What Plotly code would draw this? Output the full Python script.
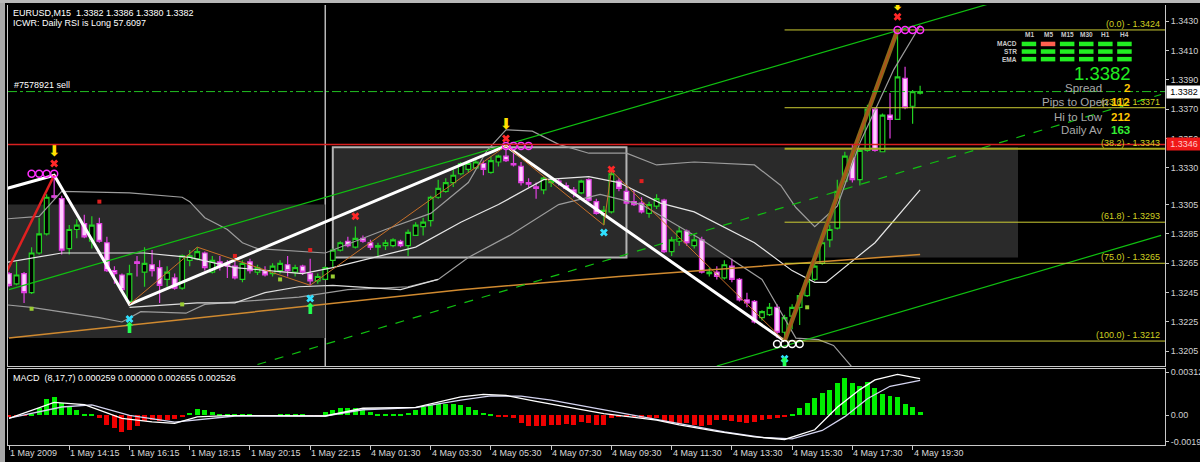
import plotly.graph_objects as go

# ---------------- data ----------------
bars = list(range(122))  # M15 bar index

open_ = [
    1.3258, 1.3251, 1.3258, 1.3245, 1.3272, 1.3285, 1.3311, 1.3309, 1.3275, 1.3288,
    1.3292, 1.3280, 1.3292, 1.3279, 1.3260, 1.3257, 1.3239, 1.3266, 1.3259, 1.3264,
    1.3262, 1.3254, 1.3255, 1.3248, 1.3267, 1.3268, 1.3272, 1.3259, 1.3266, 1.3265,
    1.3263, 1.3254, 1.3266, 1.3259, 1.3260, 1.3258, 1.3260, 1.3264, 1.3259, 1.3263,
    1.3258, 1.3253, 1.3254, 1.3267, 1.3274, 1.3280, 1.3276, 1.3282, 1.3279, 1.3276,
    1.3277, 1.3277, 1.3280, 1.3277, 1.3284, 1.3290, 1.3294, 1.3310, 1.3314, 1.3320,
    1.3326, 1.3329, 1.3330, 1.3333, 1.3327, 1.3334, 1.3338, 1.3333, 1.3331, 1.3320,
    1.3317, 1.3315, 1.3320, 1.3321, 1.3318, 1.3315, 1.3313, 1.3322, 1.3307, 1.3298,
    1.3300, 1.3321, 1.3314, 1.3307, 1.3306, 1.3299, 1.3304, 1.3308, 1.3273, 1.3280,
    1.3287, 1.3277, 1.3281, 1.3258, 1.3259, 1.3255, 1.3263, 1.3254, 1.3240, 1.3239,
    1.3228, 1.3230, 1.3235, 1.3218, 1.3229, 1.3235, 1.3243, 1.3254, 1.3265, 1.3281,
    1.3289, 1.3321, 1.3337, 1.3322, 1.3342, 1.3370, 1.3341, 1.3366, 1.3363, 1.3391,
    1.3372, 1.3381]
high = [
    1.3259, 1.3266, 1.3259, 1.3276, 1.3296, 1.3312, 1.3325, 1.3311, 1.3291, 1.3295,
    1.3298, 1.3297, 1.3296, 1.3283, 1.3263, 1.3258, 1.3264, 1.3270, 1.3276, 1.3274,
    1.3267, 1.3263, 1.3258, 1.3271, 1.3274, 1.3276, 1.3273, 1.3270, 1.3270, 1.3267,
    1.3266, 1.3267, 1.3268, 1.3264, 1.3263, 1.3265, 1.3267, 1.3270, 1.3264, 1.3264,
    1.3268, 1.3258, 1.3263, 1.3275, 1.3280, 1.3283, 1.3290, 1.3284, 1.3281, 1.3279,
    1.3281, 1.3282, 1.3281, 1.3288, 1.3293, 1.3296, 1.3311, 1.3322, 1.3323, 1.3329,
    1.3334, 1.3335, 1.3337, 1.3335, 1.3338, 1.3339, 1.3346, 1.3340, 1.3334, 1.3323,
    1.3320, 1.3324, 1.3322, 1.3323, 1.3320, 1.3317, 1.3322, 1.3323, 1.3309, 1.3304,
    1.3330, 1.3323, 1.3316, 1.3315, 1.3310, 1.3307, 1.3312, 1.3309, 1.3283, 1.3290,
    1.3288, 1.3285, 1.3283, 1.3262, 1.3263, 1.3267, 1.3268, 1.3255, 1.3245, 1.3240,
    1.3233, 1.3238, 1.3237, 1.3230, 1.3237, 1.3245, 1.3254, 1.3266, 1.3281, 1.3291,
    1.3322, 1.3341, 1.3346, 1.3343, 1.3373, 1.3371, 1.3367, 1.3381, 1.3424, 1.3399,
    1.3383, 1.3386]
low = [
    1.3249, 1.3250, 1.3238, 1.3244, 1.3271, 1.3284, 1.3309, 1.3271, 1.3271, 1.3282,
    1.3282, 1.3275, 1.3279, 1.3259, 1.3251, 1.3245, 1.3237, 1.3256, 1.3249, 1.3256,
    1.3238, 1.3249, 1.3247, 1.3247, 1.3263, 1.3267, 1.3260, 1.3258, 1.3260, 1.3255,
    1.3254, 1.3252, 1.3258, 1.3257, 1.3256, 1.3256, 1.3258, 1.3256, 1.3256, 1.3257,
    1.3250, 1.3251, 1.3254, 1.3262, 1.3273, 1.3276, 1.3275, 1.3279, 1.3274, 1.3270,
    1.3274, 1.3276, 1.3276, 1.3270, 1.3284, 1.3284, 1.3290, 1.3309, 1.3313, 1.3317,
    1.3325, 1.3327, 1.3329, 1.3325, 1.3326, 1.3331, 1.3334, 1.3331, 1.3318, 1.3317,
    1.3309, 1.3312, 1.3317, 1.3318, 1.3315, 1.3310, 1.3312, 1.3307, 1.3298, 1.3291,
    1.3299, 1.3314, 1.3305, 1.3304, 1.3299, 1.3296, 1.3302, 1.3272, 1.3270, 1.3277,
    1.3277, 1.3275, 1.3258, 1.3256, 1.3254, 1.3254, 1.3252, 1.3239, 1.3235, 1.3224,
    1.3226, 1.3229, 1.3214, 1.3212, 1.3220, 1.3223, 1.3242, 1.3253, 1.3264, 1.3276,
    1.3288, 1.3320, 1.3320, 1.3318, 1.3341, 1.3341, 1.3341, 1.3350, 1.3363, 1.3370,
    1.3360, 1.3380]
close = [
    1.3250, 1.3257, 1.3245, 1.3272, 1.3285, 1.3310, 1.3310, 1.3274, 1.3288, 1.3291,
    1.3283, 1.3291, 1.3280, 1.3260, 1.3258, 1.3247, 1.3258, 1.3265, 1.3265, 1.3260,
    1.3250, 1.3259, 1.3248, 1.3270, 1.3270, 1.3273, 1.3262, 1.3267, 1.3263, 1.3263,
    1.3255, 1.3265, 1.3260, 1.3262, 1.3257, 1.3263, 1.3265, 1.3260, 1.3262, 1.3259,
    1.3253, 1.3256, 1.3262, 1.3274, 1.3279, 1.3277, 1.3282, 1.3280, 1.3276, 1.3277,
    1.3279, 1.3281, 1.3277, 1.3286, 1.3291, 1.3293, 1.3310, 1.3316, 1.3320, 1.3325,
    1.3333, 1.3333, 1.3334, 1.3329, 1.3335, 1.3338, 1.3335, 1.3332, 1.3320, 1.3319,
    1.3316, 1.3323, 1.3321, 1.3320, 1.3316, 1.3313, 1.3321, 1.3308, 1.3299, 1.3301,
    1.3326, 1.3316, 1.3306, 1.3305, 1.3300, 1.3305, 1.3309, 1.3273, 1.3281, 1.3287,
    1.3279, 1.3281, 1.3259, 1.3259, 1.3256, 1.3264, 1.3254, 1.3240, 1.3238, 1.3225,
    1.3232, 1.3235, 1.3218, 1.3228, 1.3235, 1.3243, 1.3253, 1.3263, 1.3279, 1.3288,
    1.3314, 1.3338, 1.3322, 1.3342, 1.3370, 1.3342, 1.3366, 1.3363, 1.3392, 1.3371,
    1.3382, 1.3382]

macd_hist = [
    -0.00015, -0.00010, -0.00005, 0.00010, 0.00051, 0.00116, 0.00135, 0.00086, 0.00058, 0.00040,
    0.00012, 0.00012, -0.00016, -0.00070, -0.00093, -0.00123, -0.00105, -0.00077, -0.00040, -0.00035,
    -0.00040, -0.00035, -0.00030, -0.00012, 0.00016, 0.00047, 0.00035, 0.00023, 0.00012, 0.00007,
    0.00005, 0.00004, 0.00003, -0.00003, -0.00004, -0.00003, 0.00004, 0.00005, 0.00006, 0.00003,
    -0.00004, -0.00005, 0.00023, 0.00040, 0.00051, 0.00053, 0.00053, 0.00040, 0.00021, 0.00012,
    0.00010, 0.00012, 0.00012, 0.00016, 0.00035, 0.00058, 0.00072, 0.00079, 0.00081, 0.00081,
    0.00072, 0.00058, 0.00035, 0.00019, 0.00012, -0.00007, -0.00012, -0.00023, -0.00058, -0.00077,
    -0.00081, -0.00077, -0.00070, -0.00070, -0.00065, -0.00070, -0.00049, -0.00058, -0.00070, -0.00070,
    -0.00019, -0.00012, -0.00010, -0.00014, -0.00016, -0.00016, -0.00020, -0.00047, -0.00058, -0.00063,
    -0.00058, -0.00070, -0.00074, -0.00070, -0.00035, -0.00035, -0.00040, -0.00047, -0.00058, -0.00047,
    -0.00035, -0.00026, -0.00016, -0.00007, 0.00012, 0.00051, 0.00086, 0.00128, 0.00163, 0.00186,
    0.00233, 0.00268, 0.00233, 0.00209, 0.00244, 0.00198, 0.00156, 0.00140, 0.00135, 0.00081,
    0.00058, 0.000259]
macd_main_x = [0, 6, 10, 15, 19, 22, 25, 29, 42, 47, 54, 60, 63, 66, 70, 75, 79, 86, 89, 94, 99, 103, 107, 110, 113, 115, 118, 121]
macd_main_y = [-0.00023, 0.00093, 0.00077, -0.00023, -0.00047, -0.00058, -0.00012, -0.00002, -0.00005, 0.00051,
               0.00058, 0.00133, 0.00151, 0.00144, 0.00100, 0.00051, 0.00012, -0.00035, -0.00070, -0.00116,
               -0.00156, -0.00175, -0.00105, 0.00058, 0.00186, 0.00256, 0.00296, 0.002655]
macd_sig_x = [0, 7, 11, 16, 22, 27, 30, 42, 47, 54, 60, 64, 68, 72, 78, 86, 90, 95, 100, 104, 108, 111, 114, 117, 121]
macd_sig_y = [-0.0002, 0.0006, 0.00075, 0.0, -0.0005, -0.0002, -0.00005, -0.00005, 0.0004, 0.00055,
              0.0011, 0.0014, 0.00138, 0.0011, 0.0005, -0.0003, -0.0007, -0.0012, -0.0016, -0.0017,
              -0.0011, -0.0001, 0.0012, 0.0021, 0.002526]

tick_idx = [0, 8, 16, 24, 32, 40, 48, 56, 64, 72, 80, 88, 96, 104, 112, 120]
tick_text = ["1 May 2009", "1 May 14:15", "1 May 16:15", "1 May 18:15", "1 May 20:15",
             "1 May 22:15", "4 May 01:30", "4 May 03:30", "4 May 05:30", "4 May 07:30",
             "4 May 09:30", "4 May 11:30", "4 May 13:30", "4 May 15:30", "4 May 17:30",
             "4 May 19:30"]
price_ticks = [1.3430, 1.3410, 1.3390, 1.3370, 1.3350, 1.3330, 1.3305, 1.3285,
               1.3265, 1.3245, 1.3225, 1.3205]
macd_ticks = [0.003127, 0.0, -0.0019]
macd_tick_text = ["0.003127", "0.00", "-0.00190"]

fib_levels = ["0.0", "23.6", "38.2", "61.8", "75.0", "100.0"]
fib_prices = [1.3424, 1.3371, 1.3343, 1.3293, 1.3265, 1.3212]
fib_start = 103

current_price = 1.3382
red_level = 1.3346
order_price = 1.3382
order_label = "#7578921 sell"
separator_bar = 42

# shaded boxes: start bar, end bar, low price, high price
zone_start = [-1, 43]
zone_end = [42, 134]
zone_low = [1.3214, 1.3269]
zone_high = [1.3305, 1.3344]
box_start, box_end, box_low, box_high = 43, 82, 1.3269, 1.3344

# band curves (bar, price)
bb_up_x = [-1, 4, 7, 16, 23, 24, 26, 29, 31, 33, 42, 43, 50, 56, 61, 63.5, 66, 69.5, 73, 77, 82, 86, 91, 99, 102.5, 104.5, 107, 110, 113, 117.5, 121]
bb_up_y = [1.3295, 1.3297, 1.3314, 1.3313, 1.3310, 1.3307, 1.3296, 1.3288, 1.3279, 1.3275, 1.3272, 1.3274, 1.3288, 1.3299, 1.3320, 1.3342, 1.3356, 1.3355, 1.3346, 1.3340, 1.3340, 1.3332, 1.3334, 1.3332, 1.3318, 1.3303, 1.3290, 1.3304, 1.3347, 1.3397, 1.3427]
bb_mid_x = [-1, 7, 18, 24, 30, 39, 43, 54, 60, 65, 71, 77, 81, 86.5, 91, 99, 104, 107, 108.5, 115, 121]
bb_mid_y = [1.3265, 1.3272, 1.3272, 1.3269, 1.3262, 1.3258, 1.3262, 1.3276, 1.3293, 1.3305, 1.3322, 1.3324, 1.3320, 1.3306, 1.3300, 1.3279, 1.3260, 1.3252, 1.3252, 1.3279, 1.3315]
bb_low_x = [-1, 3, 12, 15, 17.5, 23.5, 26, 34, 38.5, 45, 53, 57, 61, 66.5, 73, 78.5, 84, 92, 100, 104.5, 107.5, 109.5, 112]
bb_low_y = [1.3237, 1.3235, 1.3228, 1.3225, 1.3232, 1.3231, 1.3237, 1.3240, 1.3242, 1.3247, 1.3249, 1.3254, 1.3269, 1.3284, 1.3305, 1.3312, 1.3305, 1.3281, 1.3254, 1.3214, 1.3213, 1.3209, 1.3194]
env_low_x = [16, 25, 30, 34, 38.5, 43, 52, 57]
env_low_y = [1.3235, 1.3238, 1.3238, 1.3245, 1.3249, 1.3250, 1.3247, 1.3254]

# trend lines (bar, price)
up_chan_x, up_chan_y = [0, 153], [1.3247, 1.3476]
low_chan_x, low_chan_y = [94, 153], [1.3195, 1.3284]
mid_chan_x, mid_chan_y = [33, 153], [1.3196, 1.3380]
orange_x, orange_y = [0, 60, 81, 121], [1.3214, 1.3247, 1.3256, 1.3271]

# zigzags
white_zz_x, white_zz_y = [-1, 6, 16, 66, 103], [1.3315, 1.3325, 1.3237, 1.3345, 1.3212]
red_zz_x, red_zz_y = [-1, 6], [1.3252, 1.3325]
thin_zz_x = [16, 25, 40, 66, 79, 80, 103]
thin_zz_y = [1.3237, 1.3276, 1.3250, 1.3345, 1.3291, 1.3328, 1.3212]
leg_x, leg_y = [103, 118], [1.3212, 1.3424]

# markers
mag_circ_x = [3, 4, 5, 6, 66, 67, 68, 69, 118, 119, 120, 121]
mag_circ_y = [1.3326, 1.3326, 1.3326, 1.3326, 1.3345, 1.3345, 1.3345, 1.3345, 1.3424, 1.3424, 1.3424, 1.3424]
wht_circ_x = [102, 103, 104, 105]
wht_circ_y = [1.3210, 1.3210, 1.3210, 1.3210]
red_x_x = [6, 46, 66, 80, 118]
red_x_y = [1.3333, 1.3297, 1.3350, 1.3329, 1.3433]
red_dot_x = [12, 30, 40, 84]
red_dot_y = [1.3307, 1.3270, 1.3274, 1.3321]
lime_dot_x = [3, 23, 36, 43, 106]
lime_dot_y = [1.3234, 1.3237, 1.3254, 1.3256, 1.3235]
cyan_x_x = [16, 40, 79, 103]
cyan_x_y = [1.3227, 1.3241, 1.3286, 1.3200]
up_arrow_x = [16, 40, 103]
up_arrow_y = [1.3220, 1.3233, 1.3196]
dn_arrow_x = [6, 66, 118]
dn_arrow_y = [1.3341, 1.3359, 1.3440]

# dashboard
tf_labels = ["M1", "M5", "M15", "M30", "H1", "H4"]
ind_labels = ["MACD", "STR", "EMA"]
signal_grid = [[1, 0, 1, 1, 1, 1], [1, 1, 1, 1, 1, 1], [1, 1, 1, 1, 1, 1]]
stat_labels = ["Spread", "Pips to Open", "Hi to Low", "Daily Av"]
stat_values = ["2", "112", "212", "163"]
stat_colors = ["#ffc800", "#ffc800", "#ffc800", "#33ee33"]
header_1 = "EURUSD,M15  1.3382 1.3386 1.3380 1.3382"
header_2 = "ICWR: Daily RSI is Long 57.6097"
macd_header = "MACD  (8,17,7) 0.000259 0.000000 0.002655 0.002526"

# ---------------- layout geometry ----------------
W, H = 1200, 462
ML, MR, MT, MB = 8, 35, 5, 17
PW, PH = W - ML - MR, H - MT - MB
XR = [-0.133, 153.52]
FONT = "Liberation Sans"


def pxx(x):
    return (x - ML) / PW


def pyy(y):
    return (H - MB - y) / PH


fig = go.Figure()

# bands
for xs, ys, col in [(bb_up_x, bb_up_y, "#9c9c9c"), (bb_mid_x, bb_mid_y, "#e6e6e6"),
                    (bb_low_x, bb_low_y, "#9c9c9c"), (env_low_x, env_low_y, "#dcdcdc")]:
    fig.add_trace(go.Scatter(x=xs, y=ys, mode="lines", line=dict(color=col, width=1.2),
                             hoverinfo="skip"))

fig.add_trace(go.Scatter(x=orange_x, y=orange_y, mode="lines",
                         line=dict(color="#d08a30", width=1.5), hoverinfo="skip"))
for xs, ys, dash in [(up_chan_x, up_chan_y, "solid"), (low_chan_x, low_chan_y, "solid"),
                     (mid_chan_x, mid_chan_y, "dash")]:
    fig.add_trace(go.Scatter(x=xs, y=ys, mode="lines",
                             line=dict(color="#10c010", width=1.2, dash=dash), hoverinfo="skip"))

# fibonacci lines
for lvl, p in zip(fib_levels, fib_prices):
    fig.add_trace(go.Scatter(x=[fib_start, XR[1]], y=[p, p], mode="lines",
                             line=dict(color="#a8a820" if lvl == "38.2" else "#cccc33",
                                       width=2 if lvl == "38.2" else 1),
                             hoverinfo="skip"))

# candles
fig.add_trace(go.Candlestick(
    x=bars, open=open_, high=high, low=low, close=close,
    increasing=dict(line=dict(color="#22d022", width=1.2), fillcolor="#000000"),
    decreasing=dict(line=dict(color="#e040e0", width=1.2), fillcolor="#ffd0ff"),
    whiskerwidth=0, hoverinfo="skip"))

# zigzags
fig.add_trace(go.Scatter(x=white_zz_x, y=white_zz_y, mode="lines",
                         line=dict(color="#ffffff", width=3), hoverinfo="skip"))
fig.add_trace(go.Scatter(x=red_zz_x, y=red_zz_y, mode="lines",
                         line=dict(color="#e02020", width=2.5), hoverinfo="skip"))
fig.add_trace(go.Scatter(x=thin_zz_x, y=thin_zz_y, mode="lines",
                         line=dict(color="#c87028", width=1), hoverinfo="skip"))
fig.add_trace(go.Scatter(x=leg_x, y=leg_y, mode="lines",
                         line=dict(color="#8a6a1a", width=4.5), hoverinfo="skip"))
fig.add_trace(go.Scatter(x=leg_x, y=leg_y, mode="lines",
                         line=dict(color="#c8401a", width=1), hoverinfo="skip"))

# markers
fig.add_trace(go.Scatter(x=mag_circ_x, y=mag_circ_y, mode="markers",
                         marker=dict(symbol="circle-open", size=7, color="#ff30ff",
                                     line=dict(width=1.5)), hoverinfo="skip"))
fig.add_trace(go.Scatter(x=wht_circ_x, y=wht_circ_y, mode="markers",
                         marker=dict(symbol="circle-open", size=7, color="#ffffff",
                                     line=dict(width=1.5)), hoverinfo="skip"))
fig.add_trace(go.Scatter(x=red_x_x, y=red_x_y, mode="markers",
                         marker=dict(symbol="x", size=7, color="#ff2828"), hoverinfo="skip"))
fig.add_trace(go.Scatter(x=red_dot_x, y=red_dot_y, mode="markers",
                         marker=dict(symbol="square", size=4, color="#e02020"), hoverinfo="skip"))
fig.add_trace(go.Scatter(x=lime_dot_x, y=lime_dot_y, mode="markers",
                         marker=dict(symbol="square", size=4, color="#9acd32"), hoverinfo="skip"))
fig.add_trace(go.Scatter(x=cyan_x_x, y=cyan_x_y, mode="markers",
                         marker=dict(symbol="x", size=7, color="#30e0ff"), hoverinfo="skip"))
fig.add_trace(go.Scatter(x=up_arrow_x, y=up_arrow_y, mode="text", text=["⬆"] * len(up_arrow_x),
                         textfont=dict(family="DejaVu Sans", size=15, color="#22ff55"),
                         hoverinfo="skip"))
fig.add_trace(go.Scatter(x=dn_arrow_x, y=dn_arrow_y, mode="text", text=["⬇"] * len(dn_arrow_x),
                         textfont=dict(family="DejaVu Sans", size=15, color="#ffe000"),
                         hoverinfo="skip"))

# MACD panel
fig.add_trace(go.Bar(x=bars, y=macd_hist, xaxis="x2", yaxis="y2", width=0.66,
                     marker=dict(color=["#00ee00" if v > 0 else "#ee0000" for v in macd_hist],
                                 line=dict(width=0)), hoverinfo="skip"))
fig.add_trace(go.Scatter(x=macd_sig_x, y=macd_sig_y, xaxis="x2", yaxis="y2", mode="lines",
                         line=dict(color="#d4d4f0", width=1.3), hoverinfo="skip"))
fig.add_trace(go.Scatter(x=macd_main_x, y=macd_main_y, xaxis="x2", yaxis="y2", mode="lines",
                         line=dict(color="#ffffff", width=1.3), hoverinfo="skip"))

# ---------------- shapes ----------------
shapes = []
for s, e, lo, hi in zip(zone_start, zone_end, zone_low, zone_high):
    shapes.append(dict(type="rect", xref="x", yref="y", x0=s, x1=e, y0=lo, y1=hi,
                       fillcolor="#2a2a2a", line=dict(width=0), layer="below"))
shapes.append(dict(type="rect", xref="x", yref="y", x0=box_start, x1=box_end, y0=box_low,
                   y1=box_high, fillcolor="rgba(0,0,0,0)",
                   line=dict(color="#b4b4b4", width=2), layer="below"))
shapes.append(dict(type="line", xref="x", yref="y domain", x0=separator_bar, x1=separator_bar,
                   y0=0, y1=1, line=dict(color="#b8b8b8", width=1.5), layer="below"))
shapes.append(dict(type="line", xref="paper", yref="y", x0=0, x1=1, y0=red_level, y1=red_level,
                   line=dict(color="#d82020", width=1.5)))
shapes.append(dict(type="line", xref="paper", yref="y", x0=0, x1=1, y0=order_price,
                   y1=order_price, line=dict(color="#22c022", width=1, dash="dashdot")))
# window frame
shapes.append(dict(type="rect", xref="paper", yref="paper", x0=pxx(0), x1=pxx(5),
                   y0=pyy(H), y1=pyy(0), fillcolor="#a8a8a8", line=dict(width=0)))
shapes.append(dict(type="rect", xref="paper", yref="paper", x0=pxx(0), x1=pxx(W),
                   y0=pyy(3), y1=pyy(0), fillcolor="#b8b8b8", line=dict(width=0)))
# dashboard signal cells
for r, row in enumerate(signal_grid):
    for c, v in enumerate(row):
        x0 = 1021.7 + 19.1 * c
        y0 = 41.7 + 7.6 * r
        shapes.append(dict(type="rect", xref="paper", yref="paper",
                           x0=pxx(x0), x1=pxx(x0 + 14.5), y0=pyy(y0 + 4.5), y1=pyy(y0),
                           fillcolor="#22ee22" if v else "#ff6050", line=dict(width=0)))

# ---------------- annotations ----------------
ann = []


def text(x, y, s, size=9, color="#ffffff", xanchor="left", bold=False):
    ann.append(dict(xref="paper", yref="paper", x=pxx(x), y=pyy(y), text=f"<b>{s}</b>" if bold else s,
                    showarrow=False, xanchor=xanchor, yanchor="middle",
                    font=dict(family=FONT, size=size, color=color)))


text(11, 13, header_1)
text(11, 23.5, header_2)
text(11, 378, macd_header)
ann.append(dict(xref="paper", yref="y", x=pxx(12), y=order_price, text=order_label,
                showarrow=False, xanchor="left", yanchor="bottom", yshift=0,
                font=dict(family=FONT, size=9, color="#ffffff")))
for t, lab in zip(tick_idx, tick_text):
    ann.append(dict(xref="x2", yref="paper", x=t, y=pyy(452.5), text=lab, showarrow=False,
                    xanchor="left", yanchor="middle", xshift=-1,
                    font=dict(family=FONT, size=9, color="#d8d8d8")))
for lvl, p in zip(fib_levels, fib_prices):
    ann.append(dict(xref="paper", yref="y", x=1, y=p, text=f"({lvl}) - {p:.4f}",
                    showarrow=False, xanchor="right", yanchor="bottom", xshift=-3, yshift=-1,
                    font=dict(family=FONT, size=9, color="#d0d020")))
# price boxes on the axis
ann.append(dict(xref="paper", yref="y", x=1, y=current_price, text=f"{current_price:.4f}",
                showarrow=False, xanchor="left", yanchor="middle", xshift=1, bgcolor="#ffffff",
                borderpad=1, width=32, font=dict(family=FONT, size=9, color="#000000")))
ann.append(dict(xref="paper", yref="y", x=1, y=red_level, text=f"{red_level:.4f}",
                showarrow=False, xanchor="left", yanchor="middle", xshift=1, bgcolor="#f01818",
                borderpad=1, width=32, font=dict(family=FONT, size=9, color="#ffc8c8")))
# dashboard texts
for c, lab in enumerate(tf_labels):
    text(1029 + 19.1 * c, 34, lab, size=6.5, color="#c8c8c8", xanchor="center", bold=True)
for r, lab in enumerate(ind_labels):
    text(1019, 43.9 + 7.6 * r, lab, size=6.5, color="#c8c8c8", xanchor="right", bold=True)
text(1133, 73.5, f"{current_price:.4f}", size=18.5, color="#22ee22", xanchor="right")
stat_y = [88, 102, 116.5, 130]
stat_right = [1104, 1110, 1105, 1105]
for lab, val, col, yy, xr in zip(stat_labels, stat_values, stat_colors, stat_y, stat_right):
    text(xr, yy, lab, size=11.5, color="#a8a8a8", xanchor="right")
    text(1132, yy, val, size=11.5, color=col, xanchor="right", bold=True)

axis_font = dict(family=FONT, size=9, color="#d0d0d0")
fig.update_layout(
    width=W, height=H, margin=dict(l=ML, r=MR, t=MT, b=MB, pad=0),
    paper_bgcolor="#000000", plot_bgcolor="#000000", showlegend=False,
    shapes=shapes, annotations=ann, bargap=0, boxgap=0.12,
    xaxis=dict(domain=[0, 1], range=XR, anchor="y", showline=True, linecolor="#c8c8c8",
               linewidth=1, showticklabels=False, ticks="", showgrid=False, zeroline=False,
               rangeslider=dict(visible=False), fixedrange=True),
    xaxis2=dict(domain=[0, 1], range=XR, anchor="y2", matches="x", showline=True, mirror=True,
                linecolor="#c8c8c8", linewidth=1, ticks="outside", ticklen=4,
                tickcolor="#c8c8c8", tickvals=tick_idx, showticklabels=False, showgrid=False,
                zeroline=False, fixedrange=True),
    yaxis=dict(domain=[pyy(366), 1], range=[1.3195, 1.3441], side="right",
               tickvals=price_ticks, ticktext=[f"{v:.4f}" for v in price_ticks],
               ticks="outside", ticklen=3, tickcolor="#c8c8c8", showline=True,
               linecolor="#c8c8c8", mirror=True, showgrid=False, zeroline=False,
               tickfont=axis_font, automargin=False, fixedrange=True),
    yaxis2=dict(domain=[0, pyy(369)], range=[-0.00215, 0.00335], side="right",
                tickvals=macd_ticks, ticktext=macd_tick_text, ticks="outside", ticklen=3,
                tickcolor="#c8c8c8", showline=True, linecolor="#c8c8c8", mirror=True,
                showgrid=False, zeroline=False, tickfont=axis_font, automargin=False,
                fixedrange=True),
)

fig.write_html("out.html", config={"displayModeBar": False},
               post_script="document.body.style.margin='0';document.body.style.background='#000';")
